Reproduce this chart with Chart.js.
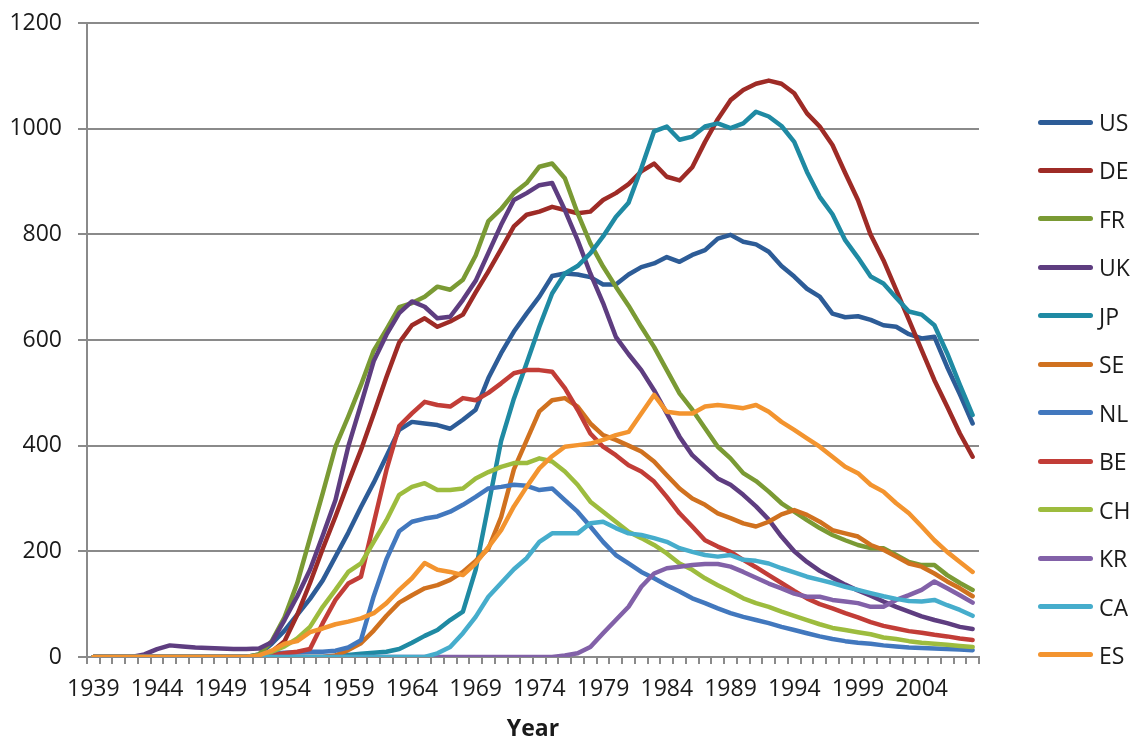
<!DOCTYPE html>
<html>
<head>
<meta charset="utf-8">
<script src="https://cdn.jsdelivr.net/npm/chart.js@4.4.1/dist/chart.umd.min.js"></script>
<style>
  html, body { margin: 0; padding: 0; background: #fff; }
  #wrap { position: relative; width: 1134px; height: 743px; }
  #legend { position: absolute; left: 1038px; top: 0; font-family: 'Open Sans', 'Liberation Sans', sans-serif; font-size: 23px; color: #1a1a1a; }
  .item { position: absolute; left: 0; height: 30px; display: flex; align-items: center; white-space: nowrap; }
  .swatch { width: 55px; height: 5px; border-radius: 3px; margin-right: 6px; }
</style>
</head>
<body>
<div id="wrap">
  <canvas id="chart" width="1134" height="743"></canvas>
  <div id="legend"></div>
</div>
<script>
const FONT = "'Open Sans', 'Liberation Sans', sans-serif";

// Categories (years)
const years = [
  '1939',
  '1940','1941','1942','1943','1944','1945','1946','1947','1948','1949',
  '1950','1951','1952','1953','1954','1955','1956','1957','1958','1959',
  '1960','1961','1962','1963','1964','1965','1966','1967','1968','1969',
  '1970','1971','1972','1973','1974','1975','1976','1977','1978','1979',
  '1980','1981','1982','1983','1984','1985','1986','1987','1988','1989',
  '1990','1991','1992','1993','1994','1995','1996','1997','1998','1999',
  '2000','2001','2002','2003','2004','2005','2006','2007','2008'
];

// Labels shown under the x axis
const tickLabels = ['1939','1944','1949','1954','1959','1964','1969','1974','1979','1984','1989','1994','1999','2004'];

const countries = ['US','DE','FR','UK','JP','SE','NL','BE','CH','KR','CA','ES'];

// Series values, 1939 .. 2008
const us = [0,
  0,0,0,0,0,0,0,0,0,0,
  0,0,5,25,50,80,110,145,190,235,
  284,330,380,430,445,442,439,432,449,468,
  528,575,616,650,682,721,726,724,719,705,
  705,724,738,745,757,748,761,770,792,799,
  786,781,767,740,720,697,682,650,643,645,
  638,628,625,611,603,606,549,497,442];

const de = [0,
  0,0,0,0,0,0,0,0,0,0,
  0,0,2,10,30,80,140,205,266,330,
  392,460,530,595,628,641,625,635,648,690,
  730,772,815,837,843,852,846,840,843,865,
  878,895,919,934,909,902,927,975,1018,1054,
  1073,1085,1091,1085,1067,1029,1004,969,916,865,
  799,751,695,638,581,524,474,423,379];

const fr = [0,
  0,0,0,0,0,0,0,0,0,0,
  0,0,5,30,75,140,225,310,398,455,
  515,580,620,662,670,682,701,695,714,760,
  825,848,878,897,928,934,906,840,783,739,
  701,665,625,587,543,499,468,433,398,376,
  348,333,313,291,275,259,244,231,221,212,
  206,206,193,180,174,174,155,140,127];

const uk = [0,
  0,0,0,5,15,22,20,18,17,16,
  15,15,16,28,70,115,165,230,297,398,
  478,560,610,651,673,663,641,644,676,712,
  765,818,865,878,893,897,846,789,726,670,
  606,573,543,505,461,417,382,360,338,326,
  307,285,260,228,200,180,163,150,137,126,
  116,105,95,86,77,70,64,57,53];

const jp = [0,
  0,0,0,0,0,0,0,0,0,0,
  0,0,0,0,0,0,0,0,2,4,
  6,8,10,15,27,40,51,70,86,165,
  287,409,489,556,625,688,726,740,764,796,
  833,860,925,995,1004,979,985,1004,1010,1001,
  1010,1032,1023,1005,975,918,871,838,789,756,
  720,707,680,654,648,628,575,515,458];

const se = [0,
  0,0,0,0,0,0,0,0,0,0,
  0,0,0,0,0,0,0,0,3,13,
  26,50,78,103,117,130,136,146,161,182,
  205,265,355,410,465,486,490,474,442,420,
  411,400,389,370,344,319,300,288,272,263,
  253,247,256,270,278,269,256,240,234,228,
  212,203,190,177,171,158,143,130,115];

const nl = [0,
  0,0,0,0,0,0,0,0,0,0,
  0,0,3,6,8,9,10,10,12,18,
  32,115,185,238,256,262,266,275,288,303,
  319,322,326,324,316,319,297,275,247,218,
  193,177,161,149,136,124,111,102,92,83,
  76,70,64,57,51,45,39,34,30,27,
  25,22,20,18,17,16,15,14,13];

const be = [0,
  0,0,0,0,0,0,0,0,0,0,
  0,0,0,3,7,10,15,64,108,139,
  152,253,354,437,461,483,477,474,490,486,
  500,518,537,543,543,540,509,468,423,398,
  382,363,351,332,303,272,247,221,209,199,
  184,170,155,140,125,111,100,92,83,75,
  66,59,54,49,46,42,39,35,32];

const ch = [0,
  0,0,0,0,0,0,0,0,0,0,
  0,0,3,10,20,35,57,95,127,161,
  177,218,259,307,322,329,316,316,319,338,
  350,360,367,367,376,370,351,326,294,275,
  256,237,225,212,196,177,165,149,136,124,
  111,102,95,86,78,70,62,55,51,47,
  43,37,34,30,27,25,23,21,19];

const kr = [0,
  0,0,0,0,0,0,0,0,0,0,
  0,0,0,0,0,0,0,0,0,0,
  0,0,0,0,0,0,0,0,0,0,
  0,0,0,0,0,0,3,7,19,45,
  70,95,133,158,168,171,174,176,176,171,
  161,150,139,130,120,114,114,108,105,102,
  95,95,108,117,127,143,130,117,103];

const ca = [0,
  0,0,0,0,0,0,0,0,0,0,
  0,0,0,0,0,0,0,0,0,0,
  0,0,0,0,0,0,7,19,45,76,
  114,140,166,187,218,234,234,234,253,256,
  244,234,231,225,218,206,199,193,190,193,
  184,182,177,168,160,152,146,140,133,127,
  121,115,110,106,105,108,98,89,78];

const es = [0,
  0,0,0,0,0,0,0,0,0,0,
  0,0,3,12,25,30,47,54,62,67,
  73,83,102,127,149,178,165,161,155,177,
  208,240,285,322,357,380,398,401,404,411,
  420,426,461,496,464,461,461,474,477,474,
  471,477,464,445,430,414,398,379,360,348,
  326,313,291,272,247,221,199,180,161];

const seriesValues = [us, de, fr, uk, jp, se, nl, be, ch, kr, ca, es];

const colors = ['#2d5c97', '#9e2b26', '#7a9a34', '#5e3d80', '#1f8aa3', '#d0711f',
                '#4278be', '#c23d37', '#9dbc3e', '#8261a8', '#46adcc', '#f3942f'];

// Later series are drawn on top, as in the original
const datasets = countries.map((name, i) => ({
  label: name,
  data: seriesValues[i],
  borderColor: colors[i],
  backgroundColor: colors[i],
  order: countries.length - 1 - i
}));

const GRID = '#8a8a8a';

const ctx = document.getElementById('chart').getContext('2d');
const chart = new Chart(ctx, {
  type: 'line',
  data: { labels: years, datasets: datasets },
  options: {
    responsive: false,
    animation: false,
    devicePixelRatio: 1,
    layout: { padding: { top: 23, right: 155, left: 0, bottom: 0 } },
    plugins: {
      legend: { display: false },
      tooltip: { enabled: false }
    },
    elements: {
      point: { radius: 0 },
      line: { borderWidth: 4.5, tension: 0, borderCapStyle: 'round', borderJoinStyle: 'round', fill: false }
    },
    scales: {
      x: {
        offset: true,
        grid: { display: true, drawOnChartArea: false, drawTicks: true, tickLength: 7, offset: true, color: GRID, lineWidth: 2 },
        border: { display: true, color: GRID, width: 2 },
        ticks: {
          autoSkip: false,
          maxRotation: 0,
          minRotation: 0,
          padding: 12,
          color: '#1a1a1a',
          font: { family: FONT, size: 23 },
          callback: function(value, index) {
            const lab = years[index];
            return tickLabels.includes(lab) ? lab : '';
          }
        },
        title: {
          display: true,
          text: 'Year',
          color: '#1a1a1a',
          font: { family: FONT, size: 23, weight: 'bold' },
          padding: { top: 4, bottom: 0 }
        },
        afterFit: function(scale) { scale.height = 86; }
      },
      y: {
        min: 0,
        max: 1200,
        grid: { color: GRID, lineWidth: 2, tickLength: 9, drawTicks: true },
        border: { display: true, color: GRID, width: 2 },
        ticks: {
          stepSize: 200,
          padding: 16,
          color: '#1a1a1a',
          font: { family: FONT, size: 23, lineHeight: 0.5 },
          callback: v => String(v)
        },
        afterFit: function(scale) { scale.width = 87; }
      }
    }
  }
});

// HTML legend built from the chart's datasets
const legendEl = document.getElementById('legend');
chart.data.datasets.forEach((ds, i) => {
  const row = document.createElement('div');
  row.className = 'item';
  row.style.top = (122 + i * 48.45 - 15) + 'px';
  const sw = document.createElement('span');
  sw.className = 'swatch';
  sw.style.background = ds.borderColor;
  const txt = document.createElement('span');
  txt.textContent = ds.label;
  row.appendChild(sw);
  row.appendChild(txt);
  legendEl.appendChild(row);
});
</script>
</body>
</html>
